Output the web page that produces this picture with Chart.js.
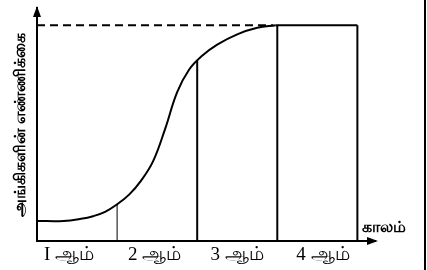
<!DOCTYPE html>
<html>
<head>
<meta charset="utf-8">
<script src="https://cdn.jsdelivr.net/npm/chart.js@4"></script>
<style>
  body { margin: 0; background: white; }
  #wrap { width: 427px; height: 270px; }
</style>
</head>
<body>
<div id="wrap"><canvas id="grafico" width="427" height="270"></canvas></div>
<script>
  // curva de crecimiento (eje x en fases, eje y en % del maximo)
  let curvaX = [0, 0.33, 0.55, 0.7, 0.85, 1.0, 1.15, 1.3, 1.45, 1.6, 1.75, 1.9, 2.05, 2.25, 2.5, 2.75, 2.98]
  let curvaY = [9.3, 9.3, 10.3, 11.5, 13.5, 17, 21.5, 28, 37, 52, 69, 79.5, 85.5, 91, 95.8, 98.8, 100]

  // tramo plano del final
  let mesetaX = [2.98, 4]
  let maximo = 100

  // lineas verticales que separan las fases
  let lineasX = [1, 2, 3, 4]
  let lineasAlto = [17, 83.8, 100, 100]

  // linea punteada del maximo
  let finPunteada = 2.95

  let etiquetasX = ["I ஆம்", "2 ஆம்", "3 ஆம்", "4 ஆம்"]
  let posEtiquetasX = [0.4, 1.47, 2.5, 3.57]
  let tituloY = "அங்கிகளின் எண்ணிக்கை"
  let tituloX = "காலம்"

  let fuente = "'Liberation Serif', 'Noto Sans', serif"

  let datasets = []
  datasets.push({
    data: curvaX.map((x, i) => ({ x: x, y: curvaY[i] })),
    borderColor: "black",
    borderWidth: 2,
    pointRadius: 0,
    tension: 0.4
  })
  datasets.push({
    data: mesetaX.map(x => ({ x: x, y: maximo })),
    borderColor: "black",
    borderWidth: 2,
    pointRadius: 0
  })
  datasets.push({
    data: [{ x: 0, y: maximo }, { x: finPunteada, y: maximo }],
    borderColor: "black",
    borderWidth: 2,
    borderDash: [8, 5],
    pointRadius: 0
  })
  for (var i = 0; i < lineasX.length; i++) {
    datasets.push({
      data: [{ x: lineasX[i], y: 0 }, { x: lineasX[i], y: lineasAlto[i] }],
      borderColor: "black",
      borderWidth: i == 0 ? 1 : 2,
      pointRadius: 0
    })
  }

  // flechas de los ejes, el titulo del eje x y el marco derecho
  const extras = {
    id: "extras",
    afterDraw(chart) {
      const c = chart.ctx
      const a = chart.chartArea
      c.save()
      c.fillStyle = "black"
      c.beginPath()
      c.moveTo(a.left, a.top - 2)
      c.lineTo(a.left - 4, a.top + 9)
      c.lineTo(a.left + 4, a.top + 9)
      c.closePath()
      c.fill()
      c.beginPath()
      c.moveTo(a.right + 3, a.bottom)
      c.lineTo(a.right - 8, a.bottom - 4)
      c.lineTo(a.right - 8, a.bottom + 4)
      c.closePath()
      c.fill()
      c.font = "bold 16px " + fuente
      c.textAlign = "left"
      c.textBaseline = "middle"
      c.fillText(tituloX, chart.scales.x.getPixelForValue(4) + 5, a.bottom - 13)
      c.fillRect(chart.width - 3, 0, 2, chart.height)
      c.restore()
    }
  }

  var ctx = document.getElementById("grafico").getContext("2d")
  var grafico = new Chart(ctx, {
    type: "line",
    data: { datasets: datasets },
    plugins: [extras],
    options: {
      responsive: false,
      animation: false,
      layout: { padding: { left: 0, right: 52, top: 8, bottom: 0 } },
      plugins: { legend: { display: false }, tooltip: { enabled: false } },
      scales: {
        x: {
          type: "linear",
          min: 0,
          max: 4.22,
          grid: { display: false, drawTicks: false },
          border: { display: true, color: "black", width: 2 },
          afterFit: function (s) { s.height = 29 },
          afterBuildTicks: function (s) { s.ticks = posEtiquetasX.map(v => ({ value: v })) },
          ticks: {
            autoSkip: false,
            maxRotation: 0,
            padding: 3,
            color: "black",
            font: { family: fuente, size: 19 },
            callback: function (v, i) { return etiquetasX[i] }
          }
        },
        y: {
          min: 0,
          max: 108,
          grid: { display: false, drawTicks: false },
          border: { display: true, color: "black", width: 2 },
          afterFit: function (s) { s.width = 37 },
          ticks: { display: false },
          title: {
            display: true,
            text: tituloY,
            color: "black",
            padding: { top: 11, bottom: 0 },
            font: { family: fuente, size: 16, weight: "bold" }
          }
        }
      }
    }
  })
</script>
</body>
</html>
